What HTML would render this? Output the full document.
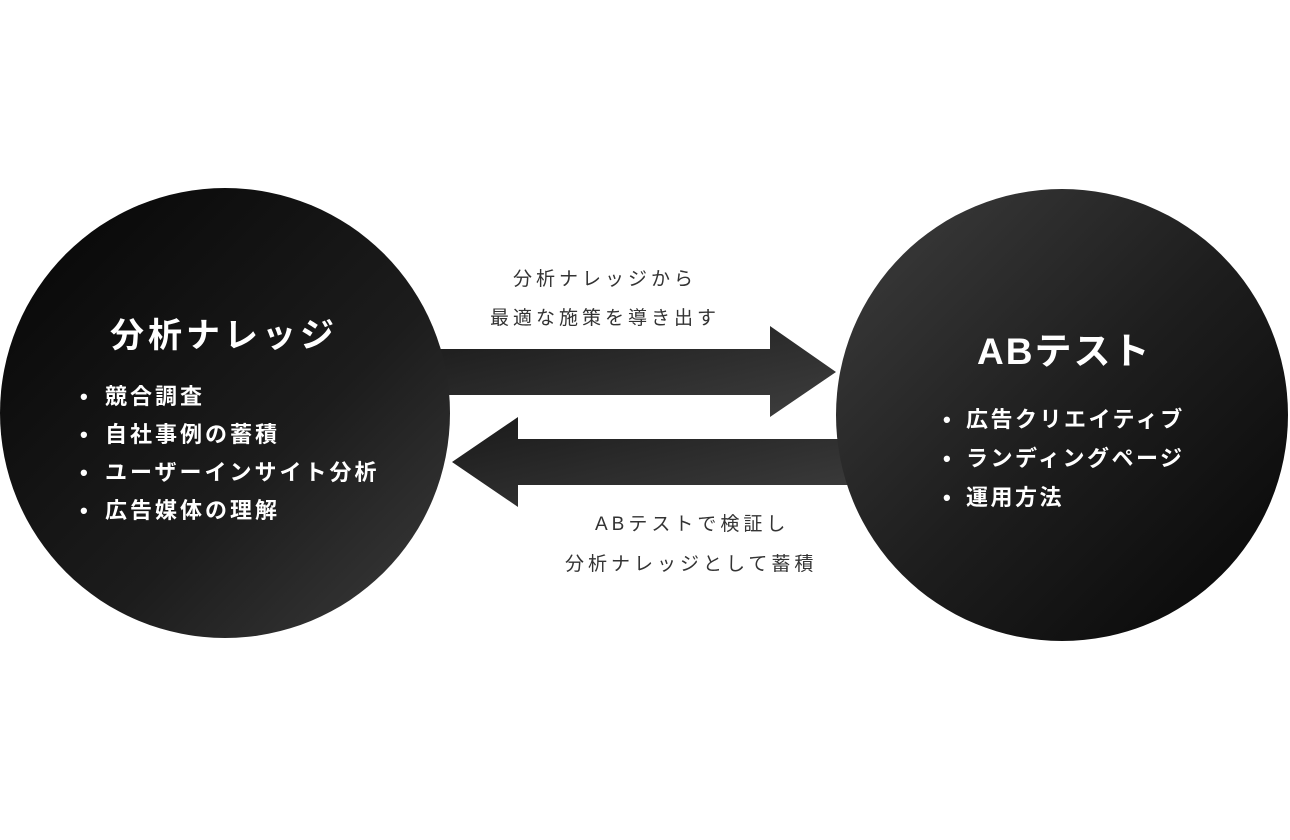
<!DOCTYPE html>
<html><head><meta charset="utf-8"><style>
html,body{margin:0;padding:0;background:#fff;}
body{width:1290px;height:840px;position:relative;overflow:hidden;font-family:"Liberation Sans","Noto Sans CJK JP",sans-serif;}
.t{position:absolute;white-space:nowrap;line-height:1;}
.w{color:#fff;font-weight:bold;}
.g{color:#333;font-size:19px;letter-spacing:4px;}
.b{display:inline-block;width:25px;}
.b2{display:inline-block;width:23px;}
</style></head><body>
<svg width="1290" height="840" style="position:absolute;left:0;top:0">
<defs>
<linearGradient id="lg" x1="0" y1="0" x2="1" y2="1">
<stop offset="0" stop-color="#050505"/><stop offset="0.6" stop-color="#1c1c1c"/><stop offset="1" stop-color="#3c3c3c"/></linearGradient>
<linearGradient id="rg" x1="0" y1="0" x2="1" y2="1">
<stop offset="0" stop-color="#3e3e3e"/><stop offset="0.5" stop-color="#1e1e1e"/><stop offset="1" stop-color="#060606"/></linearGradient>
<linearGradient id="ag" x1="0" y1="0" x2="1" y2="1">
<stop offset="0" stop-color="#1a1a1a"/><stop offset="1" stop-color="#3e3e3e"/></linearGradient>
</defs>
<polygon points="430,349 770,349 770,326 836,372 770,417 770,395 430,395" fill="url(#ag)"/>
<polygon points="860,439 518,439 518,417 452,462 518,507 518,485 860,485" fill="url(#ag)"/>
<circle cx="225" cy="413" r="225" fill="url(#lg)"/>
<circle cx="1062" cy="415" r="226" fill="url(#rg)"/>
</svg>
<div class="t w" style="left:110px;top:319px;font-size:34px;letter-spacing:4px;">分析ナレッジ</div>
<div class="t w" style="left:80px;top:378px;font-size:22px;letter-spacing:3px;line-height:38px;">
<div><span class="b">•</span>競合調査</div><div><span class="b">•</span>自社事例の蓄積</div><div><span class="b">•</span>ユーザーインサイト分析</div><div><span class="b">•</span>広告媒体の理解</div></div>
<div class="t w" style="left:977px;top:333px;font-size:37px;letter-spacing:2px;">ABテスト</div>
<div class="t w" style="left:943px;top:400px;font-size:22px;letter-spacing:2.5px;line-height:39px;">
<div><span class="b2">•</span>広告クリエイティブ</div><div><span class="b2">•</span>ランディングページ</div><div><span class="b2">•</span>運用方法</div></div>
<div class="t g" style="left:513px;top:270px;">分析ナレッジから</div>
<div class="t g" style="left:490px;top:309px;">最適な施策を導き出す</div>
<div class="t g" style="left:595px;top:515px;">ABテストで検証し</div>
<div class="t g" style="left:565px;top:555px;">分析ナレッジとして蓄積</div>
</body></html>
